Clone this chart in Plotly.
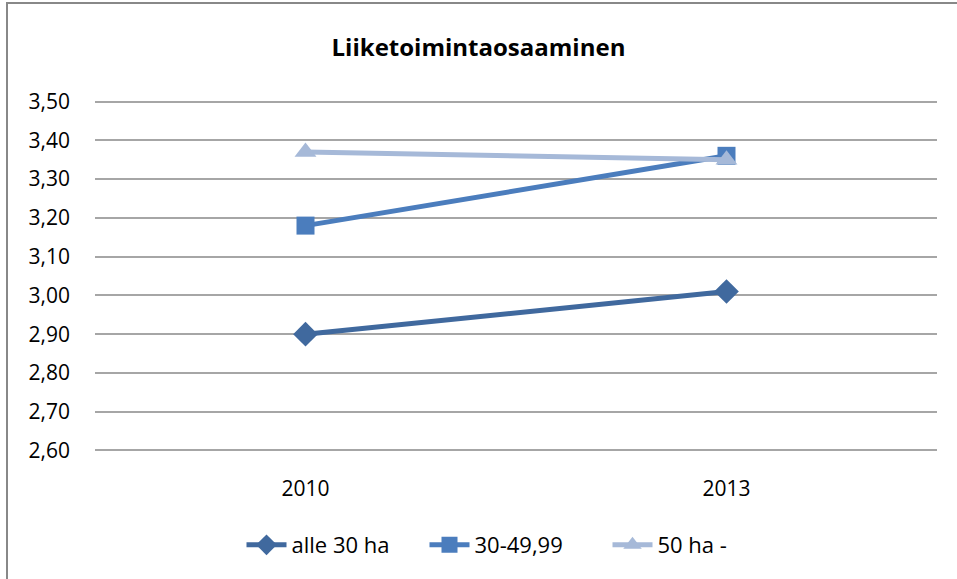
import plotly.graph_objects as go

categories = ["2010", "2013"]
alle_30 = [2.90, 3.01]
s30_49 = [3.18, 3.36]
s50 = [3.37, 3.35]
series_names = ["alle 30 ha", "30-49,99", "50 ha -"]

L, R, T, B = 95, 20, 100, 127
W, H = 957, 579
pw, ph = W - L - R, H - T - B

fig = go.Figure()
fig.add_trace(go.Scatter(x=categories, y=alle_30, name=series_names[0], mode="lines+markers",
                         line=dict(color="#40699E", width=5),
                         marker=dict(symbol="diamond", size=19, color="#40699E")))
fig.add_trace(go.Scatter(x=categories, y=s30_49, name=series_names[1], mode="lines+markers",
                         line=dict(color="#4B7DBD", width=5),
                         marker=dict(symbol="square", size=18, color="#4B7DBD")))
fig.add_trace(go.Scatter(x=categories, y=s50, name=series_names[2], mode="lines+markers",
                         line=dict(color="#A6B9D8", width=5),
                         marker=dict(symbol="triangle-up", size=19, color="#A6B9D8")))

fig.update_layout(
    width=W, height=H,
    margin=dict(l=L, r=R, t=T, b=B),
    plot_bgcolor="white", paper_bgcolor="white",
    separators=", ",
    font=dict(family="Open Sans", size=21, color="#000000"),
    title=dict(text="<b>Liiketoimintaosaaminen</b>", x=0.5, xanchor="center",
               y=1 - 48 / H, yanchor="middle", font=dict(size=24, family="Open Sans")),
    xaxis=dict(type="category", range=[-0.5, 1.5], showgrid=False, showline=False,
               ticks="", tickfont=dict(size=21), ticklabelstandoff=22),
    yaxis=dict(range=[2.596, 3.504], dtick=0.1, tick0=2.6, tickformat=".2f",
               showgrid=True, gridcolor="#A6A6A6", gridwidth=1.5, zeroline=False,
               showline=False, ticks="", tickfont=dict(size=21), ticklabelstandoff=24),
    legend=dict(orientation="h", x=0.5, xanchor="center", y=-(545 - 452) / ph,
                yanchor="middle", font=dict(size=22), itemwidth=40, tracegroupgap=0,
                entrywidth=128, entrywidthmode="pixels"),
    showlegend=True,
)
fig.add_shape(type="rect", xref="paper", yref="paper",
              x0=(7 - L) / pw, x1=(W + 5 - L) / pw,
              y0=-(H + 5 - T - ph) / ph, y1=(ph + T - 3) / ph,
              line=dict(color="#888888", width=2), fillcolor="rgba(0,0,0,0)", layer="below")

fig.write_html("out.html", config={"displayModeBar": False},
               post_script="document.body.style.margin='0';document.body.style.overflow='hidden';")
